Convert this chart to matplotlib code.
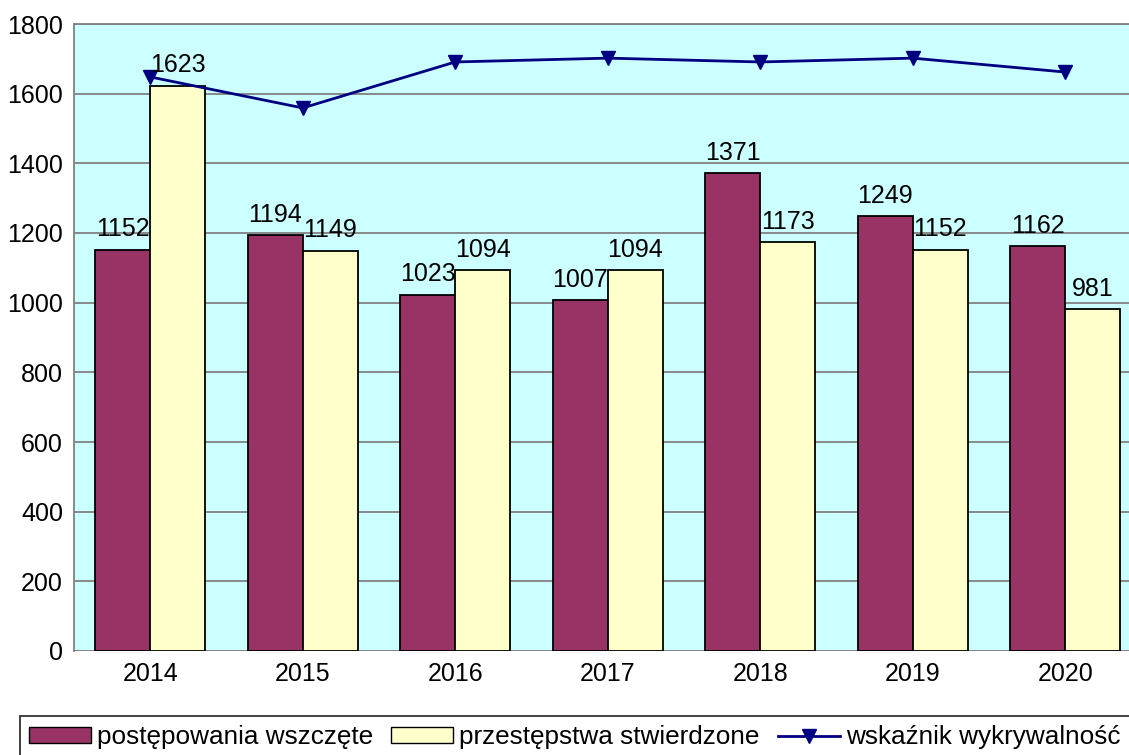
import numpy as np
import matplotlib
matplotlib.use('Agg')
import matplotlib.pyplot as plt
from matplotlib.patches import Patch
from matplotlib.lines import Line2D

plt.rcParams['font.family'] = ['Liberation Sans', 'DejaVu Sans']

years = ['2014', '2015', '2016', '2017', '2018', '2019', '2020']
wszczete = [1152, 1194, 1023, 1007, 1371, 1249, 1162]
stwierdzone = [1623, 1149, 1094, 1094, 1173, 1152, 981]
# wskaznik drawn in the same scale
wskaznik = [1648, 1559, 1691, 1702, 1691, 1702, 1662]

W, H = 1129, 755
fs = 18
fig = plt.figure(figsize=(W / 100, H / 100), dpi=100)
ax = fig.add_axes([74 / W, 104 / H, (W - 74) / W, 627 / H])
ax.set_facecolor('#CCFFFF')

x = np.arange(len(years))
bw = 0.36
ax.bar(x - bw / 2, wszczete, bw, color='#993366', edgecolor='black', linewidth=1.3, zorder=3)
ax.bar(x + bw / 2, stwierdzone, bw, color='#FFFFCC', edgecolor='black', linewidth=1.3, zorder=3)
ax.plot(x, wskaznik, color='#000080', linewidth=2, marker='v', markersize=10, zorder=5)

for xi, v in zip(x - bw / 2, wszczete):
    ax.text(xi, v + 24, str(v), ha='center', va='bottom', fontsize=fs, zorder=6)
for xi, v in zip(x + bw / 2, stwierdzone):
    ax.text(xi, v + 24, str(v), ha='center', va='bottom', fontsize=fs, zorder=6)

ax.set_ylim(0, 1800)
ax.set_yticks(range(0, 1801, 200))
ax.set_xlim(-0.5, 6.5 - 12.5 / 152.5)
ax.set_xticks(x)
ax.set_xticklabels(years)
ax.tick_params(axis='both', labelsize=fs, length=0, pad=8)
ax.yaxis.grid(True, color='#808080', linewidth=1.3, zorder=1)
for s in ['right', 'bottom']:
    ax.spines[s].set_visible(False)
for s in ['left', 'top']:
    ax.spines[s].set_color('#808080')
    ax.spines[s].set_linewidth(1.3)
ax.axhline(0, color='#808080', linewidth=1.3, zorder=2)

handles = [Patch(facecolor='#993366', edgecolor='black'),
           Patch(facecolor='#FFFFCC', edgecolor='black'),
           Line2D([0], [0], color='#000080', linewidth=2, marker='v', markersize=10)]
labels = ['postępowania wszczęte', 'przestępstwa stwierdzone', 'wskaźnik wykrywalność']
leg = fig.legend(handles, labels, loc='upper left', bbox_to_anchor=(20 / W, 1 - 716 / H),
                 ncol=3, fontsize=18.8, frameon=True, fancybox=False, edgecolor='black',
                 handlelength=2.37, handleheight=0.55, handletextpad=0.23, columnspacing=0.69,
                 borderpad=0.36, borderaxespad=0)
leg.get_frame().set_linewidth(1.3)

fig.savefig('out.png', dpi=100)
